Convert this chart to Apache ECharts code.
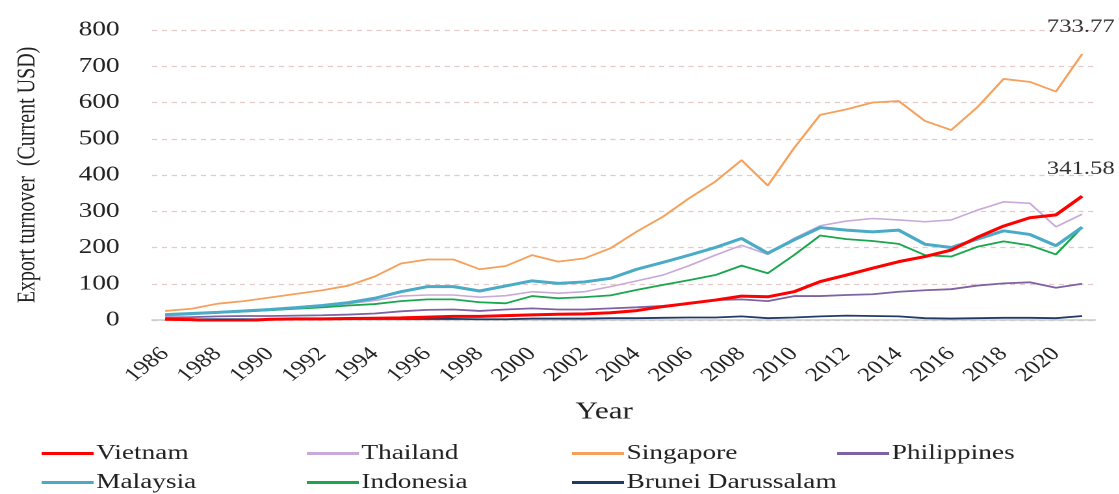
<!DOCTYPE html>
<html>
<head>
<meta charset="utf-8">
<script src="https://cdn.jsdelivr.net/npm/echarts@6/dist/echarts.min.js"></script>
<style>
html,body{margin:0;padding:0;background:#fff;overflow:hidden}
#c{width:861px;height:494px;transform:scaleX(1.3);transform-origin:0 0}
</style>
</head>
<body>
<div id="c"></div>
<script>
const years = [];
for (let y = 1986; y <= 2021; y++) years.push(String(y));

const vietnam     = [2,1,-3,-2,2,3,3,4,5,6,8,10,10,12,14,16,17,20,26,37,46,55,66,64,78,106,124,143,161,175,193,228,259,282,290,341.58];
const thailand    = [12,15,20,25,29,35,40,45,54,66,69,69,63,67,78,74,78,92,108,124,150,179,206,181,225,260,273,280,276,271,276,303,326,322,257,292];
const singapore   = [25,31,45,52,62,72,82,95,120,156,167,167,140,149,179,161,170,198,244,285,336,382,441,371,474,566,581,600,604,549,524,587,665,657,630,733.77];
const philippines = [7,8,10,11,11,12,13,15,18,24,28,29,25,29,32,29,29,32,35,39,46,55,57,52,66,66,69,71,78,82,85,95,101,104,89,100];
const malaysia    = [15,18,21,25,29,34,40,48,60,78,92,92,80,94,108,101,105,115,140,159,179,200,225,184,221,255,248,243,248,209,200,223,246,236,205,256];
const indonesia   = [14,17,20,23,27,31,35,40,44,52,57,57,49,46,66,60,63,68,83,97,110,124,150,129,179,233,223,218,210,179,175,202,217,206,181,256];
const brunei      = [2,2,2,2,2,3,3,3,3,3,3,3,2,2,4,4,4,5,5,6,7,7,10,5,7,10,12,11,10,5,4,5,6,6,5,11];

const yTicks = [0,100,200,300,400,500,600,700,800];
const seriesNames = ['Vietnam','Thailand','Singapore','Philippines','Malaysia','Indonesia','Brunei Darussalam'];
const seriesData = [vietnam, thailand, singapore, philippines, malaysia, indonesia, brunei];
const colors = ['#ff0000','#c9a9da','#f5a15b','#7f62a3','#4aabc6','#1aa64e','#213b66'];
const widths = [3,1.6,1.8,1.8,3,1.8,1.8];
const annotated = ['Vietnam','Singapore'];

const serif = 'Liberation Serif, Times New Roman, serif';

const series = seriesNames.map((name, i) => {
  const arr = seriesData[i];
  const s = {
    name, type: 'line', data: arr, showSymbol: false, symbol: 'none',
    lineStyle: {color: colors[i], width: widths[i]}, itemStyle: {color: colors[i]},
    z: name === 'Vietnam' ? 10 : (name === 'Malaysia' ? 8 : 5)
  };
  if (annotated.includes(name)) {
    const last = arr.length - 1;
    s.markPoint = {
      symbol: 'circle', symbolSize: 1, itemStyle: {color: 'rgba(0,0,0,0)'},
      label: {show: true, position: 'inside', offset: [-1, -27], formatter: '{c}',
        fontFamily: serif, fontSize: 19, color: '#333'},
      data: [{coord: [last, arr[last]], value: arr[last]}]
    };
  }
  return s;
});

const legendPos = [[27,438],[231,438],[435,438],[639,438],[27,467],[231,467],[435,467]];
const legends = seriesNames.map((n, i) => ({
  data: [n], left: legendPos[i][0], top: legendPos[i][1], icon: 'rect', itemWidth: 40, itemHeight: 3,
  itemGap: 0, textStyle: {fontFamily: serif, fontSize: 21, color: '#222', padding: [0,0,0,-3]}
}));

const chart = echarts.init(document.getElementById('c'), null, {renderer: 'canvas', devicePixelRatio: 2});
chart.setOption({
  animation: false,
  color: colors,
  grid: {left: 117, right: 18.5, top: 30, bottom: 174, containLabel: false},
  legend: legends,
  xAxis: {
    type: 'category', data: years, boundaryGap: true,
    name: 'Year', nameLocation: 'middle', nameGap: 80,
    nameTextStyle: {fontFamily: serif, fontSize: 24, color: '#222', padding: [0, 30, 0, 0]},
    axisLine: {lineStyle: {color: '#c8c8c8', width: 1.5}},
    axisTick: {show: false},
    axisLabel: {interval: 1, rotate: 45, fontFamily: serif, fontSize: 19.5, color: '#222', margin: 31}
  },
  yAxis: {
    type: 'value', min: yTicks[0], max: yTicks[yTicks.length - 1], interval: 100,
    name: 'Export turnover  (Current USD)', nameLocation: 'middle', nameGap: 86,
    nameTextStyle: {fontFamily: serif, fontSize: 20, color: '#222'},
    axisLine: {show: false}, axisTick: {show: false},
    axisLabel: {fontFamily: serif, fontSize: 21, color: '#222', margin: 25},
    splitLine: {lineStyle: {type: [4,3.5], color: '#e6caca', width: 1.2}}
  },
  series
});
</script>
</body>
</html>
